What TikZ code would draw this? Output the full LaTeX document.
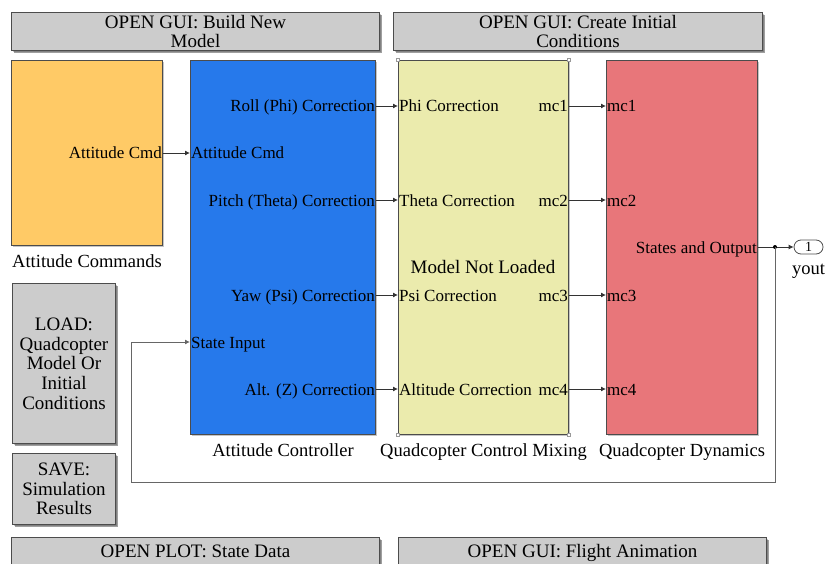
\documentclass[tikz,border=0pt]{standalone}
\usepackage{fontspec}
\setmainfont{Liberation Serif}
\usetikzlibrary{arrows.meta,shadows}

\definecolor{cmdorange}{RGB}{255,202,102}
\definecolor{ctrlblue}{RGB}{38,121,235}
\definecolor{mixyellow}{RGB}{235,235,173}
\definecolor{dynred}{RGB}{232,118,122}
\definecolor{guigray}{RGB}{204,204,204}

\tikzset{
	block/.style={draw=black!70,line width=1pt,inner sep=0pt,
		drop shadow={shadow xshift=1.5pt,shadow yshift=-1.5pt,fill=black!45}},
	guibox/.style={block,fill=guigray,align=center,
		drop shadow={shadow xshift=2.5pt,shadow yshift=-2.5pt,fill=black!75},
		font=\fontsize{19}{19.7}\selectfont},
	port/.style={inner sep=1pt,text height=13pt,text depth=1pt,font=\fontsize{17}{18}\selectfont},
	portin/.style={port,anchor=west},
	portout/.style={port,anchor=east},
	blockname/.style={inner sep=0pt,font=\fontsize{18.5}{19}\selectfont},
	signal/.style={line width=0.9pt,draw=black!80,-{Latex[length=5pt,width=5pt]}},
	wire/.style={line width=0.9pt,draw=black!60}
}

\begin{document}
\begin{tikzpicture}[x=1pt,y=-1pt]
	\useasboundingbox (0,0) rectangle (826,564);
	
	%GUI BUTTONS
	\node[guibox,minimum width=368,minimum height=38,anchor=north west] (buildgui) at (11,12) {OPEN GUI: Build New\\Model};
	\node[guibox,minimum width=369,minimum height=38,anchor=north west] (initgui) at (393,12) {OPEN GUI: Create Initial\\Conditions};
	\node[guibox,minimum width=103,minimum height=160,anchor=north west] (loadbtn) at (12,283) {LOAD:\\Quadcopter\\Model Or\\Initial\\Conditions};
	\node[guibox,minimum width=103,minimum height=71,anchor=north west] (savebtn) at (12,453) {SAVE:\\Simulation\\Results};
	\node[guibox,minimum width=368,minimum height=40,anchor=north west,text depth=13pt] (plotgui) at (11,537) {OPEN PLOT: State Data};
	\node[guibox,minimum width=368,minimum height=40,anchor=north west,text depth=13pt] (animgui) at (398,537) {OPEN GUI: Flight Animation};
	
	%BLOCKS
	\node[block,fill=cmdorange,minimum width=151,minimum height=185,anchor=north west] (cmds) at (11,60) {};
	\node[block,fill=ctrlblue,minimum width=185,minimum height=374,anchor=north west] (ctrl) at (190,60) {};
	\node[block,fill=mixyellow,minimum width=170,minimum height=374,anchor=north west] (mix) at (398,60) {};
	\node[block,fill=dynred,minimum width=151,minimum height=374,anchor=north west] (dyn) at (606,60) {};
	\node[draw=black!70,line width=0.8pt,rounded corners=7pt,minimum width=29,minimum height=14,inner sep=0pt,font=\fontsize{14}{14}\selectfont] (yout) at (808.5,247) {1};
	%
	\foreach \c in {north west,north east,south west,south east}
		\node[draw=black!40,fill=white,minimum size=3pt,inner sep=0pt] at (mix.\c) {};
	
	%BLOCK NAMES
	\node[blockname,below=8pt] (cmdsname) at (cmds.south) {Attitude Commands};
	\node[blockname,below=8pt] (ctrlname) at (ctrl.south) {Attitude Controller};
	\node[blockname,below=8pt] (mixname) at (mix.south) {Quadcopter Control Mixing};
	\node[blockname,below=8pt] (dynname) at (dyn.south) {Quadcopter Dynamics};
	\node[blockname,below=9pt] (youtname) at (yout.south) {yout};
	\node[blockname,font=\fontsize{19}{19}\selectfont] (notloaded) at (483,267) {Model Not Loaded};
	
	%PORTS
	\node[portout] (cmdsout) at (cmds.east |- 0,153) {Attitude Cmd};
	%
	\node[portin] (ctrlcmd) at (ctrl.west |- 0,153) {Attitude Cmd};
	\node[portin] (ctrlstate) at (ctrl.west |- 0,342) {State Input};
	\node[portout] (roll) at (ctrl.east |- 0,106) {Roll (Phi) Correction};
	\node[portout] (pitch) at (ctrl.east |- 0,200) {Pitch (Theta) Correction};
	\node[portout] (yaw) at (ctrl.east |- 0,295) {Yaw (Psi) Correction};
	\node[portout] (alt) at (ctrl.east |- 0,389) {Alt. (Z) Correction};
	%
	\node[portin] (phiin) at (mix.west |- 0,106) {Phi Correction};
	\node[portin] (thetain) at (mix.west |- 0,200) {Theta Correction};
	\node[portin] (psiin) at (mix.west |- 0,295) {Psi Correction};
	\node[portin] (altin) at (mix.west |- 0,389) {Altitude Correction};
	\node[portout] (mcout1) at (mix.east |- 0,106) {mc1};
	\node[portout] (mcout2) at (mix.east |- 0,200) {mc2};
	\node[portout] (mcout3) at (mix.east |- 0,295) {mc3};
	\node[portout] (mcout4) at (mix.east |- 0,389) {mc4};
	%
	\node[portin] (mcin1) at (dyn.west |- 0,106) {mc1};
	\node[portin] (mcin2) at (dyn.west |- 0,200) {mc2};
	\node[portin] (mcin3) at (dyn.west |- 0,295) {mc3};
	\node[portin] (mcin4) at (dyn.west |- 0,389) {mc4};
	\node[portout] (states) at (dyn.east |- 0,247) {States and Output};
	
	%SIGNALS
	\draw[signal] (cmds.east |- cmdsout) -- (ctrl.west |- ctrlcmd);
	\draw[signal] (ctrl.east |- roll) -- (mix.west |- phiin);
	\draw[signal] (ctrl.east |- pitch) -- (mix.west |- thetain);
	\draw[signal] (ctrl.east |- yaw) -- (mix.west |- psiin);
	\draw[signal] (ctrl.east |- alt) -- (mix.west |- altin);
	\draw[signal] (mix.east |- mcout1) -- (dyn.west |- mcin1);
	\draw[signal] (mix.east |- mcout2) -- (dyn.west |- mcin2);
	\draw[signal] (mix.east |- mcout3) -- (dyn.west |- mcin3);
	\draw[signal] (mix.east |- mcout4) -- (dyn.west |- mcin4);
	%
	\coordinate (branch) at (775,247);
	\coordinate (loopcorner) at (131,482);
	\draw[signal] (dyn.east |- states) -- (yout.west);
	\fill (branch) circle (2pt);
	\draw[wire,-{Latex[length=5pt,width=5pt]}] (branch) |- (loopcorner) |- (ctrl.west |- ctrlstate);
\end{tikzpicture}
\end{document}
